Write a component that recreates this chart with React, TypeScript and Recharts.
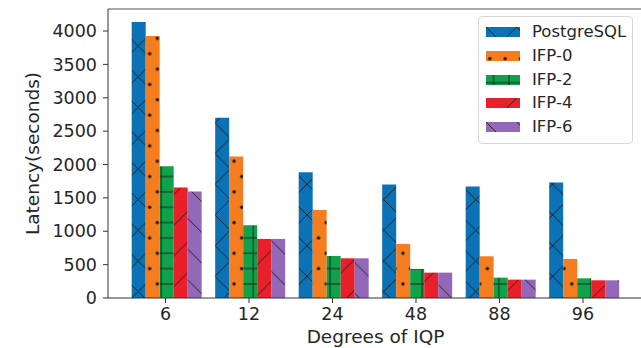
import React from 'react';
import { BarChart, Bar, XAxis, YAxis, ReferenceLine } from 'recharts';

const categories = ['6', '12', '24', '48', '88', '96'];
const postgres = [4135, 2700, 1885, 1700, 1670, 1730];
const ifp0 = [3925, 2120, 1320, 810, 625, 585];
const ifp2 = [1975, 1090, 630, 435, 305, 295];
const ifp4 = [1655, 885, 595, 380, 275, 265];
const ifp6 = [1595, 885, 595, 380, 275, 265];
const seriesNames = ['PostgreSQL', 'IFP-0', 'IFP-2', 'IFP-4', 'IFP-6'];
const yTicks = [0, 500, 1000, 1500, 2000, 2500, 3000, 3500, 4000];

const data = categories.map((c, i) => ({
  cat: c,
  pg: postgres[i],
  f0: ifp0[i],
  f2: ifp2[i],
  f4: ifp4[i],
  f6: ifp6[i],
}));

const keys = ['pg', 'f0', 'f2', 'f4', 'f6'];
const colors = ['#0b72b5', '#f47d20', '#0fa24a', '#e8202a', '#9368b8'];
const patIds = ['hx', 'hdot', 'hplus', 'hfwd', 'hback'];

const P = 30.7;
const H = 15.35;
const HC = '#1a1a1a';

function Patterns() {
  return (
    <svg width={0} height={0} style={{ position: 'absolute' }}>
      <defs>
        <pattern id="hx" patternUnits="userSpaceOnUse" width={P} height={P}>
          <rect width={P} height={P} fill={colors[0]} />
          <line x1={0} y1={0} x2={P} y2={P} stroke={HC} strokeWidth={0.9} />
          <line x1={0} y1={P} x2={P} y2={0} stroke={HC} strokeWidth={0.9} />
        </pattern>
        <pattern id="hdot" patternUnits="userSpaceOnUse" width={H} height={P}>
          <rect width={H} height={P} fill={colors[1]} />
          <circle cx={H * 0.25} cy={P * 0.25} r={1.7} fill={HC} />
          <circle cx={H * 0.75} cy={P * 0.75} r={1.7} fill={HC} />
        </pattern>
        <pattern id="hplus" patternUnits="userSpaceOnUse" width={H} height={H}>
          <rect width={H} height={H} fill={colors[2]} />
          <line x1={0} y1={H / 2} x2={H} y2={H / 2} stroke={HC} strokeWidth={0.9} />
          <line x1={H / 2} y1={0} x2={H / 2} y2={H} stroke={HC} strokeWidth={0.9} />
        </pattern>
        <pattern id="hfwd" patternUnits="userSpaceOnUse" width={P} height={P}>
          <rect width={P} height={P} fill={colors[3]} />
          <line x1={0} y1={P} x2={P} y2={0} stroke={HC} strokeWidth={0.9} />
        </pattern>
        <pattern id="hback" patternUnits="userSpaceOnUse" width={P} height={P}>
          <rect width={P} height={P} fill={colors[4]} />
          <line x1={0} y1={0} x2={P} y2={P} stroke={HC} strokeWidth={0.9} />
        </pattern>
      </defs>
    </svg>
  );
}

const FONT = '"DejaVu Sans", sans-serif';
const TXT = '#262626';

function LegendBox() {
  return (
    <div
      style={{
        position: 'absolute',
        left: 478,
        top: 16,
        width: 155,
        height: 128,
        border: '1px solid #d6d6d6',
        borderRadius: 4,
        background: '#fff',
        boxSizing: 'border-box',
        fontFamily: FONT,
        fontSize: 16.5,
        color: TXT,
      }}
    >
      {seriesNames.map((n, i) => (
        <div
          key={n}
          style={{
            position: 'absolute',
            left: 7,
            top: 6 + i * 23.75,
            height: 18,
            display: 'flex',
            alignItems: 'center',
          }}
        >
          <svg width={34} height={10} style={{ display: 'block' }}>
            <rect width={34} height={10} fill={`url(#${patIds[i]})`} />
          </svg>
          <span style={{ marginLeft: 12, lineHeight: '18px', whiteSpace: 'nowrap' }}>{n}</span>
        </div>
      ))}
    </div>
  );
}

export default function App() {
  return (
    <div style={{ position: 'absolute', left: 0, top: 0, width: 641, height: 348, background: '#fff', overflow: 'hidden' }}>
      <Patterns />
      <BarChart
        width={643}
        height={348}
        data={data}
        margin={{ top: 9, right: 0, bottom: 0, left: 0 }}
        barCategoryGap="9.5%"
        barGap={0}
      >
        <XAxis
          dataKey="cat"
          height={50}
          padding={{ left: 15.75, right: 18.25 }}
          stroke="#333"
          tickSize={5}
          tickMargin={5}
          tick={{ fill: TXT, fontSize: 17.5, fontFamily: FONT }}
          label={{ value: 'Degrees of IQP', position: 'insideBottom', offset: 5, fill: TXT, fontSize: 18.5, fontFamily: FONT }}
        />
        <YAxis
          width={108}
          domain={[0, 4330]}
          ticks={yTicks}
          stroke="#333"
          tickSize={5}
          tickMargin={6}
          tick={{ fill: TXT, fontSize: 17.5, fontFamily: FONT }}
          label={{ value: 'Latency(seconds)', angle: -90, position: 'insideLeft', offset: 32, fill: TXT, fontSize: 18.5, fontFamily: FONT, style: { textAnchor: 'middle' } }}
        />
        <ReferenceLine y={4330} stroke="#555" strokeWidth={1.2} />
        {keys.map((k, i) => (
          <Bar key={k} dataKey={k} name={seriesNames[i]} fill={`url(#${patIds[i]})`} isAnimationActive={false} />
        ))}
      </BarChart>
      <LegendBox />
    </div>
  );
}
